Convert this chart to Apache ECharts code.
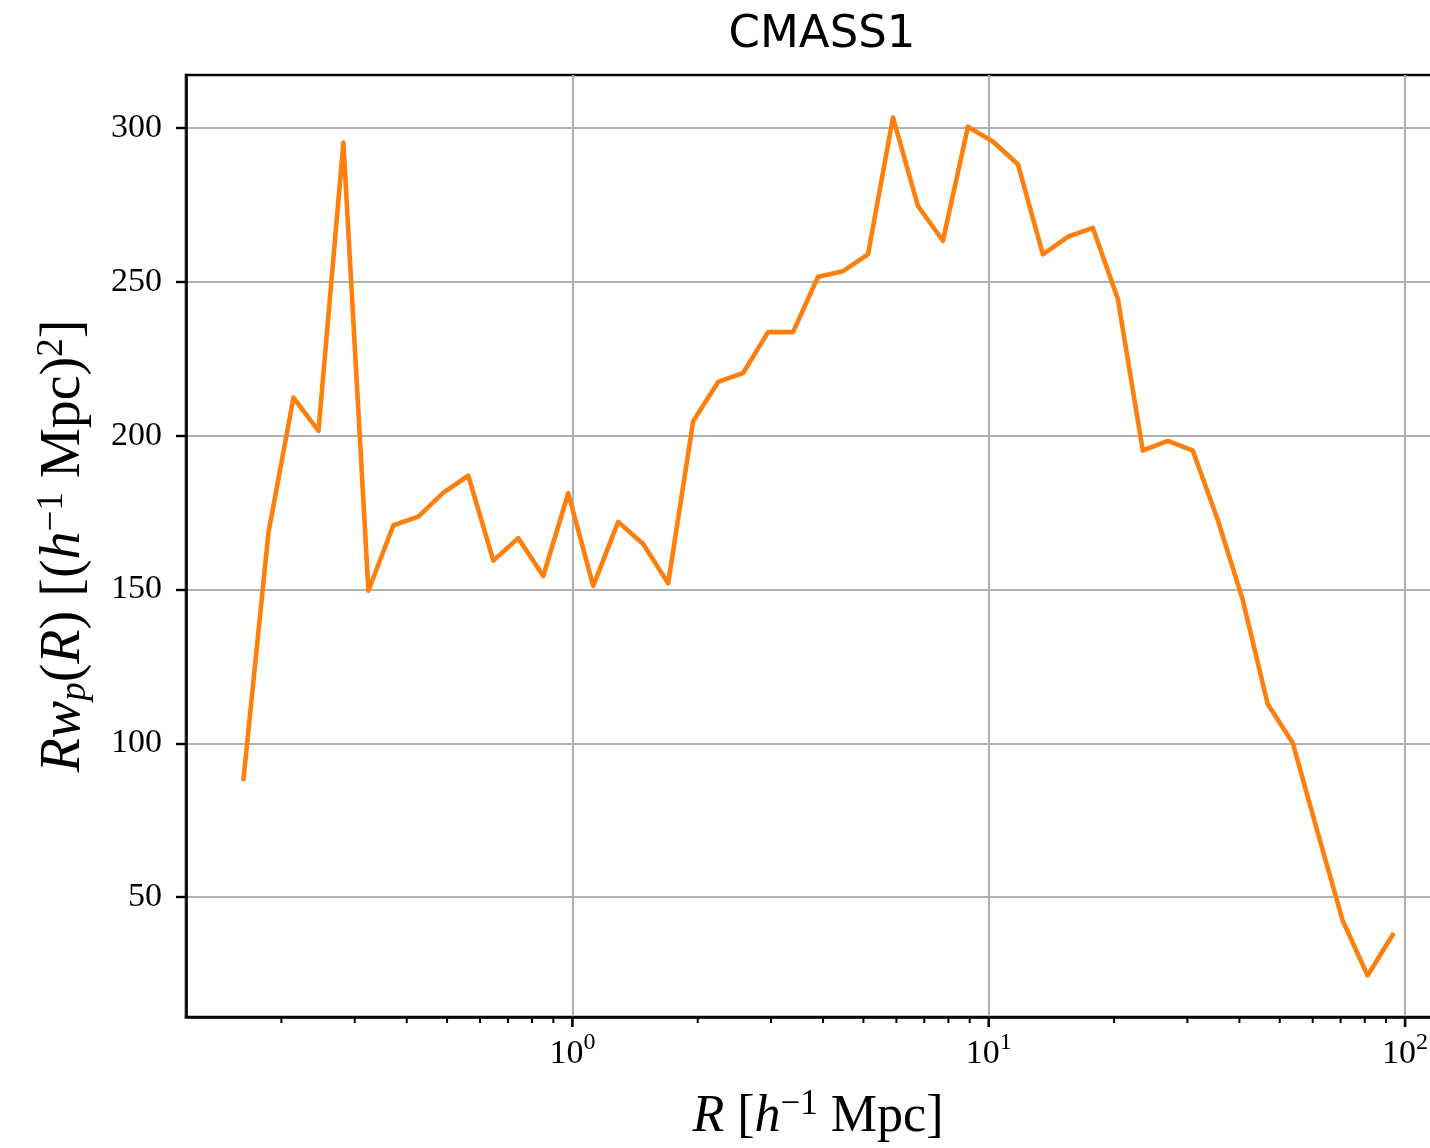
<!DOCTYPE html>
<html>
<head>
<meta charset="utf-8">
<script src="https://cdn.jsdelivr.net/npm/echarts@6/dist/echarts.min.js"></script>
<style>html,body{margin:0;padding:0;background:#fff;}#c{width:1430px;height:1148px;}</style>
</head>
<body>
<div id="c"></div>
<script>
// R [h^-1 Mpc] bin centres
const rValues = [0.1622, 0.1862, 0.2138, 0.2455, 0.2818, 0.3236, 0.3715, 0.4266, 0.4898, 0.5623,
  0.6457, 0.7413, 0.8511, 0.9772, 1.122, 1.288, 1.479, 1.698, 1.950, 2.239,
  2.570, 2.951, 3.388, 3.890, 4.467, 5.129, 5.888, 6.761, 7.762, 8.913,
  10.23, 11.75, 13.49, 15.49, 17.78, 20.42, 23.44, 26.92, 30.90, 35.48,
  40.74, 46.77, 53.70, 61.66, 70.79, 81.28, 93.33];
// R * w_p(R)
const rwpValues = [88.5, 168.5, 212.4, 201.6, 295.3, 149.6, 170.9, 173.7, 181.5, 187.0,
  159.4, 166.7, 154.4, 181.3, 151.2, 172.0, 164.8, 152.0, 204.7, 217.5,
  220.4, 233.7, 233.7, 251.7, 253.5, 259.0, 303.5, 274.7, 263.4, 300.5,
  295.7, 288.3, 259.0, 264.7, 267.6, 244.5, 195.2, 198.3, 195.2, 172.7,
  146.7, 112.8, 100.2, 71.0, 42.4, 24.5, 37.7];
const yTickValues = [50, 100, 150, 200, 250, 300];
const xMajorTicks = [1, 10, 100];
const xMinorTicks = [0.2, 0.3, 0.4, 0.5, 0.6, 0.7, 0.8, 0.9,
  2, 3, 4, 5, 6, 7, 8, 9, 20, 30, 40, 50, 60, 70, 80, 90];
const X_MIN = 0.118, X_MAX = 128.2, Y_MIN = 11, Y_MAX = 317.3;

const chart = echarts.init(document.getElementById('c'), null, {renderer: 'canvas'});
const serif = 'Liberation Serif';

function tickSeries(values, len, width) {
  return {
    type: 'custom',
    silent: true,
    clip: false,
    data: values.map(v => [v, Y_MIN]),
    renderItem: function (params, api) {
      const p = api.coord([api.value(0), Y_MIN]);
      return {
        type: 'line',
        shape: {x1: p[0], y1: p[1], x2: p[0], y2: p[1] + len},
        style: {stroke: '#000', lineWidth: width}
      };
    },
    z: 5
  };
}

const option = {
  animation: false,
  backgroundColor: '#fff',
  title: {
    text: 'CMASS1',
    left: 817, top: 8,
    textAlign: 'center',
    textStyle: {fontFamily: 'DejaVu Sans', fontSize: 45, fontWeight: 'normal', color: '#000'}
  },
  grid: {
    left: 186, top: 75, width: 1264, bottom: 131,
    show: true, borderColor: '#000', borderWidth: 2.6, backgroundColor: 'transparent',
    containLabel: false, outerBoundsMode: 'none'
  },
  xAxis: {
    type: 'log', logBase: 10, min: X_MIN, max: X_MAX,
    axisLine: {show: true, lineStyle: {color: '#000', width: 2.6}},
    axisTick: {show: false},
    splitLine: {show: true, lineStyle: {color: '#b0b0b0', width: 2.2}},
    axisLabel: {
      margin: 14, showMinLabel: false, showMaxLabel: false,
      formatter: function (v) {
        const e = Math.round(Math.log10(v));
        if (Math.abs(v - Math.pow(10, e)) > 1e-6 * v) return '';
        return '{b|10}{s|' + e + '}';
      },
      rich: {
        b: {fontFamily: serif, fontSize: 34, color: '#000', lineHeight: 40, verticalAlign: 'bottom'},
        s: {fontFamily: serif, fontSize: 24, color: '#000', lineHeight: 24, verticalAlign: 'top'}
      }
    },
    name: '{i|R}{n| [}{i|h}{s|\u22121}{n| Mpc]}',
    nameLocation: 'middle', nameGap: 70,
    nameTextStyle: {
      rich: {
        i: {fontFamily: serif, fontStyle: 'italic', fontSize: 52, color: '#000', lineHeight: 56, verticalAlign: 'bottom'},
        n: {fontFamily: serif, fontSize: 52, color: '#000', lineHeight: 56, verticalAlign: 'bottom'},
        s: {fontFamily: serif, fontSize: 35, color: '#000', lineHeight: 34, verticalAlign: 'top'}
      }
    }
  },
  yAxis: {
    type: 'value', min: Y_MIN, max: Y_MAX,
    axisLine: {show: true, lineStyle: {color: '#000', width: 2.6}},
    axisTick: {show: true, customValues: yTickValues, length: 10, lineStyle: {color: '#000', width: 2.4}},
    splitLine: {show: true, lineStyle: {color: '#b0b0b0', width: 2.2}},
    axisLabel: {
      customValues: yTickValues, margin: 24,
      fontFamily: serif, fontSize: 34, color: '#000'
    },
    name: '{i|Rw}{sub|p}{n|(}{i|R}{n|) [(}{i|h}{sup|\u22121}{n| Mpc)}{sup|2}{n|]}',
    nameLocation: 'middle', nameRotate: 90, nameGap: 92,
    nameTextStyle: {
      rich: {
        i: {fontFamily: serif, fontStyle: 'italic', fontSize: 56, color: '#000', lineHeight: 60, verticalAlign: 'middle'},
        n: {fontFamily: serif, fontSize: 56, color: '#000', lineHeight: 60, verticalAlign: 'middle'},
        sup: {fontFamily: serif, fontSize: 37, color: '#000', lineHeight: 36, verticalAlign: 'top'},
        sub: {fontFamily: serif, fontStyle: 'italic', fontSize: 37, color: '#000', lineHeight: 28, verticalAlign: 'bottom'}
      }
    }
  },
  series: [
    {
      type: 'line',
      data: rValues.map((r, i) => [r, rwpValues[i]]),
      showSymbol: false,
      lineStyle: {color: '#ff7f0e', width: 4.6, cap: 'square', join: 'round'},
      itemStyle: {color: '#ff7f0e'},
      z: 3
    },
    tickSeries(xMajorTicks, 10, 2.6),
    tickSeries(xMinorTicks, 6, 2)
  ]
};
chart.setOption(option);
</script>
</body>
</html>
